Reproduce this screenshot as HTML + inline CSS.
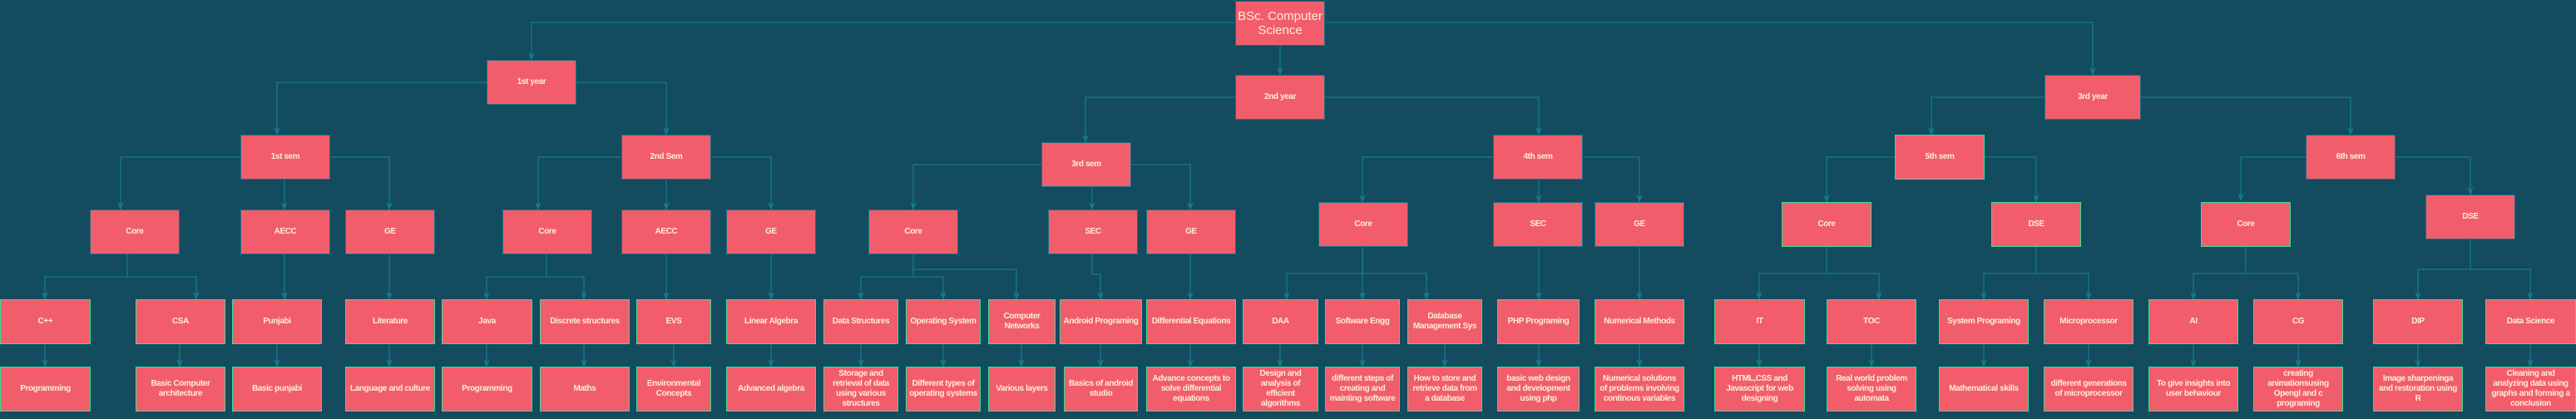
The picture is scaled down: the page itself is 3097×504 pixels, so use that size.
<!DOCTYPE html>
<html><head><meta charset="utf-8"><style>
body{margin:0;width:3097px;height:504px;background:#134b5f;position:relative;overflow:hidden;font-family:"Liberation Sans",Arial,sans-serif}
.b{position:absolute;box-sizing:border-box;height:54px;background:#f25d6b;border:1.5px solid #1d6f86;color:#fbeed6;font-weight:bold;font-size:10px;letter-spacing:-0.4px;display:flex;align-items:center;justify-content:center;text-align:center;line-height:12px;padding:0}
.g{border-color:#3ddc97}
svg{position:absolute;left:0;top:0}
</style></head><body>
<svg width="3097" height="504">
<defs><marker id="d" markerUnits="userSpaceOnUse" markerWidth="8" markerHeight="10" refX="4" refY="9" orient="0" viewBox="0 0 8 10"><path d="M0 0 L4 10 L8 0 L4 3z" fill="#147a8c"/></marker></defs>
<g fill="none" stroke="#147a8c" stroke-width="1.3" marker-end="url(#d)" stroke-linejoin="round">
<path d="M1485 27 H639 V72"/><path d="M1593 27 H2516 V90"/><path d="M1539 54 V90"/>
<path d="M585 99 H333 V162"/><path d="M693 99 H801 V162"/>
<path d="M289 189 H145 V252"/><path d="M342 216 V252"/><path d="M396 189 H468 V252"/>
<path d="M747 189 H647 V252"/><path d="M801 216 V252"/><path d="M855 189 H927 V252"/>
<path d="M153 306 V333 H54 V360"/><path d="M153 333 H236 V360"/>
<path d="M342 306 V360"/><path d="M468 306 V360"/>
<path d="M657 306 V333 H585 V360"/><path d="M657 333 H702 V360"/>
<path d="M801 306 V360"/><path d="M927 306 V360"/>
<path d="M1485 117 H1305 V171"/><path d="M1593 117 H1850 V162"/>
<path d="M1252 198 H1098 V252"/><path d="M1313 225 V252"/><path d="M1360 198 H1431 V252"/>
<path d="M1098 306 V333 H1035 V360"/><path d="M1098 333 H1134 V360"/><path d="M1098 324 H1222 V360"/>
<path d="M1313 306 V330 H1323 V360"/><path d="M1431 306 V360"/>
<path d="M1795 189 H1638 V243"/><path d="M1850 216 V243"/><path d="M1903 189 H1971 V243"/>
<path d="M1638 297 V329 H1547 V360"/><path d="M1638 297 V360"/><path d="M1638 329 H1715 V360"/>
<path d="M1850 297 V360"/><path d="M1971 297 V360"/>
<path d="M2458 117 H2322 V162"/><path d="M2574 117 H2826 V162"/>
<path d="M2278 189 H2196 V243"/><path d="M2385 189 H2448 V243"/>
<path d="M2772 189 H2694 V241"/><path d="M2880 189 H2970 V234"/>
<path d="M2196 297 V329 H2115 V360"/><path d="M2196 329 H2259 V360"/>
<path d="M2448 297 V329 H2385 V360"/><path d="M2448 329 H2511 V360"/>
<path d="M2700 297 V329 H2637 V360"/><path d="M2700 329 H2763 V360"/>
<path d="M2970 288 V324 H2907 V360"/><path d="M2970 324 H3042 V360"/>
<path d="M54 414V441"/><path d="M216 414V441"/><path d="M333 414V441"/><path d="M468 414V441"/><path d="M585 414V441"/><path d="M702 414V441"/><path d="M810 414V441"/><path d="M927 414V441"/><path d="M1035 414V441"/><path d="M1134 414V441"/><path d="M1228 414V441"/><path d="M1323 414V441"/><path d="M1431 414V441"/><path d="M1539 414V441"/><path d="M1638 414V441"/><path d="M1737 414V441"/><path d="M1850 414V441"/><path d="M1971 414V441"/><path d="M2115 414V441"/><path d="M2250 414V441"/><path d="M2385 414V441"/><path d="M2511 414V441"/><path d="M2637 414V441"/><path d="M2763 414V441"/><path d="M2907 414V441"/><path d="M3042 414V441"/>
</g></svg>

<div class="b" style="left:1485px;top:1px;width:108px;font-weight:normal;font-size:15px;line-height:17px;letter-spacing:0">BSc. Computer Science</div>
<div class="b" style="left:585px;top:72px;width:108px">1st year</div>
<div class="b" style="left:1485px;top:90px;width:108px">2nd year</div>
<div class="b" style="left:2458px;top:90px;width:116px">3rd year</div>

<div class="b" style="left:289px;top:162px;width:108px">1st sem</div>
<div class="b" style="left:747px;top:162px;width:108px">2nd Sem</div>
<div class="b" style="left:1252px;top:171px;width:108px">3rd sem</div>
<div class="b" style="left:1795px;top:162px;width:108px">4th sem</div>
<div class="b g" style="left:2278px;top:162px;width:108px">5th sem</div>
<div class="b" style="left:2772px;top:162px;width:108px">6th sem</div>

<div class="b" style="left:108px;top:252px;width:108px">Core</div>
<div class="b" style="left:289px;top:252px;width:108px">AECC</div>
<div class="b" style="left:415px;top:252px;width:108px">GE</div>
<div class="b" style="left:604px;top:252px;width:108px">Core</div>
<div class="b" style="left:747px;top:252px;width:108px">AECC</div>
<div class="b" style="left:873px;top:252px;width:108px">GE</div>
<div class="b" style="left:1044px;top:252px;width:108px">Core</div>
<div class="b" style="left:1260px;top:252px;width:108px">SEC</div>
<div class="b" style="left:1378px;top:252px;width:108px">GE</div>
<div class="b" style="left:1585px;top:243px;width:108px">Core</div>
<div class="b" style="left:1795px;top:243px;width:108px">SEC</div>
<div class="b" style="left:1917px;top:243px;width:108px">GE</div>
<div class="b g" style="left:2142px;top:243px;width:108px">Core</div>
<div class="b g" style="left:2394px;top:243px;width:108px">DSE</div>
<div class="b g" style="left:2646px;top:243px;width:108px">Core</div>
<div class="b" style="left:2916px;top:234px;width:108px">DSE</div>

<div class="b g" style="left:0;top:360px;width:109px">C++</div>
<div class="b g" style="left:163px;top:360px;width:108px">CSA</div>
<div class="b g" style="left:279px;top:360px;width:108px">Punjabi</div>
<div class="b g" style="left:415px;top:360px;width:108px">Literature</div>
<div class="b g" style="left:531px;top:360px;width:109px">Java</div>
<div class="b g" style="left:649px;top:360px;width:108px;white-space:nowrap">Discrete structures</div>
<div class="b g" style="left:765px;top:360px;width:90px">EVS</div>
<div class="b g" style="left:873px;top:360px;width:108px">Linear Algebra</div>
<div class="b g" style="left:990px;top:360px;width:90px;white-space:nowrap">Data Structures</div>
<div class="b g" style="left:1089px;top:360px;width:90px;white-space:nowrap">Operating System</div>
<div class="b g" style="left:1188px;top:360px;width:81px">Computer<br>Networks</div>
<div class="b g" style="left:1274px;top:360px;width:99px;white-space:nowrap">Android Programing</div>
<div class="b g" style="left:1378px;top:360px;width:108px;white-space:nowrap">Differential Equations</div>
<div class="b g" style="left:1494px;top:360px;width:91px">DAA</div>
<div class="b g" style="left:1593px;top:360px;width:90px;white-space:nowrap">Software Engg</div>
<div class="b g" style="left:1692px;top:360px;width:90px">Database<br>Management Sys</div>
<div class="b g" style="left:1800px;top:360px;width:99px;white-space:nowrap">PHP Programing</div>
<div class="b g" style="left:1917px;top:360px;width:108px;white-space:nowrap">Numerical Methods</div>
<div class="b g" style="left:2061px;top:360px;width:109px">IT</div>
<div class="b g" style="left:2196px;top:360px;width:108px">TOC</div>
<div class="b g" style="left:2331px;top:360px;width:108px;white-space:nowrap">System Programing</div>
<div class="b g" style="left:2457px;top:360px;width:108px">Microprocessor</div>
<div class="b g" style="left:2583px;top:360px;width:108px">AI</div>
<div class="b g" style="left:2709px;top:360px;width:108px">CG</div>
<div class="b g" style="left:2853px;top:360px;width:108px">DIP</div>
<div class="b g" style="left:2988px;top:360px;width:109px">Data Science</div>

<div class="b g" style="left:0;top:441px;width:109px">Programming</div>
<div class="b g" style="left:163px;top:441px;width:108px">Basic Computer<br>architecture</div>
<div class="b g" style="left:279px;top:441px;width:108px">Basic punjabi</div>
<div class="b g" style="left:415px;top:441px;width:108px;white-space:nowrap">Language and culture</div>
<div class="b g" style="left:531px;top:441px;width:109px">Programming</div>
<div class="b g" style="left:649px;top:441px;width:108px">Maths</div>
<div class="b g" style="left:765px;top:441px;width:90px">Environmental<br>Concepts</div>
<div class="b g" style="left:873px;top:441px;width:108px;white-space:nowrap">Advanced algebra</div>
<div class="b g" style="left:990px;top:441px;width:90px">Storage and<br>retrieval of data<br>using various<br>structures</div>
<div class="b g" style="left:1089px;top:441px;width:90px">Different types of<br>operating systems</div>
<div class="b g" style="left:1188px;top:441px;width:81px">Various layers</div>
<div class="b g" style="left:1279px;top:441px;width:89px">Basics of android<br>studio</div>
<div class="b g" style="left:1378px;top:441px;width:108px">Advance concepts to<br>solve differential<br>equations</div>
<div class="b g" style="left:1494px;top:441px;width:91px">Design and<br>analysis of<br>efficient<br>algorithms</div>
<div class="b g" style="left:1593px;top:441px;width:90px">different steps of<br>creating and<br>mainting software</div>
<div class="b g" style="left:1692px;top:441px;width:90px">How to store and<br>retrieve data from<br>a database</div>
<div class="b g" style="left:1800px;top:441px;width:99px">basic web design<br>and development<br>using php</div>
<div class="b g" style="left:1917px;top:441px;width:108px">Numerical solutions<br>of problems involving<br>continous variables</div>
<div class="b g" style="left:2061px;top:441px;width:109px">HTML,CSS and<br>Javascript for web<br>designing</div>
<div class="b g" style="left:2196px;top:441px;width:108px">Real world problem<br>solving using<br>automata</div>
<div class="b g" style="left:2331px;top:441px;width:108px">Mathematical skills</div>
<div class="b g" style="left:2457px;top:441px;width:108px">different generations<br>of microprocessor</div>
<div class="b g" style="left:2583px;top:441px;width:108px">To give insights into<br>user behaviour</div>
<div class="b g" style="left:2709px;top:441px;width:108px">creating<br>animationsusing<br>Opengl and c<br>programing</div>
<div class="b g" style="left:2853px;top:441px;width:108px">Image sharpeninga<br>and restoration using<br>R</div>
<div class="b g" style="left:2988px;top:441px;width:109px">Cleaning and<br>analyzing data using<br>graphs and forming a<br>conclusion</div>
</body></html>
